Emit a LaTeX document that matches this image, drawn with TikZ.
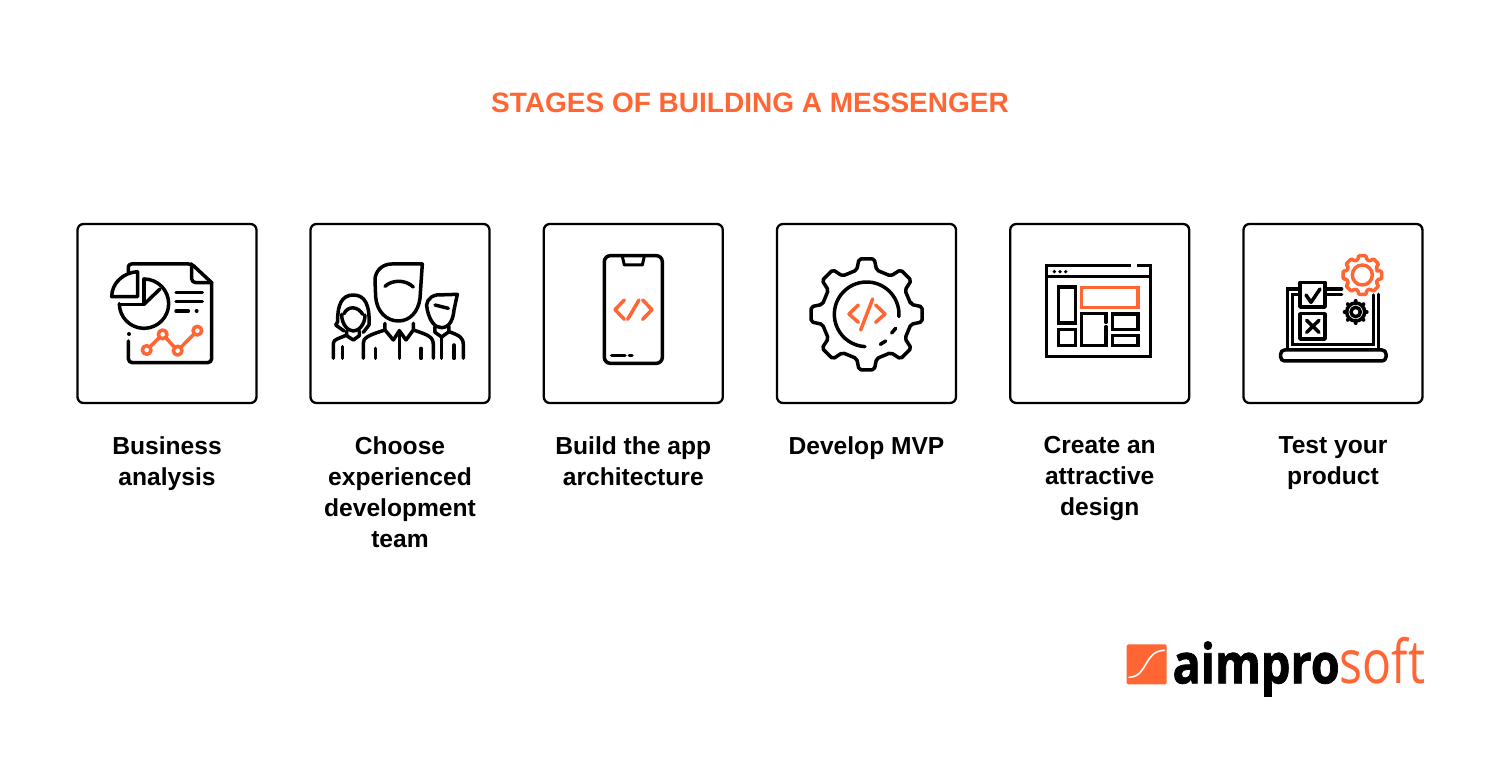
\documentclass[tikz,border=0pt]{standalone}
\usepackage{fontspec}
\usepackage{graphicx}
\setmainfont{Liberation Sans}
\newfontfamily\logobold[BoldFont={* Bold},BoldFeatures={FakeBold=1.5}]{Open Sans}
\newfontfamily\logolight{Open Sans}
\definecolor{accent}{HTML}{FF6633}
\tikzset{
  iconbox/.style={draw=black,line width=2.3pt,rounded corners=6pt,minimum width=179pt,minimum height=179pt,inner sep=0pt},
  caption/.style={anchor=north,align=center,font=\fontsize{24.6}{31}\selectfont\bfseries,inner sep=0pt,text=black},
  ink/.style={line width=3.5pt,line cap=round,line join=round,draw=black},
  inkthin/.style={line width=3pt,line cap=round,line join=round,draw=black},
  hot/.style={line width=3.5pt,line cap=round,line join=round,draw=accent},
  zoomA/.style={shift={(70,215)},scale=1/3},
  zoomB/.style={shift={(535,215)},scale=1/3},
  zoomC/.style={shift={(1000,215)},scale=1/3},
  zoomL/.style={shift={(1115,625)},scale=1/3},
}
\begin{document}
\begin{tikzpicture}[x=1pt,y=1pt,yscale=-1]
\useasboundingbox (0,0) rectangle (1500,767);
\fill[white] (0,0) rectangle (1500,767);
\node[anchor=base,font=\fontsize{28}{34}\selectfont\bfseries,text=accent,inner sep=0pt] (title) at (750,113) {STAGES OF BUILDING A MESSENGER};
% boxes
\node[iconbox] (b1) at (167,313.5) {};
\node[iconbox] (b2) at (400,313.5) {};
\node[iconbox] (b3) at (633.3,313.5) {};
\node[iconbox] (b4) at (866.5,313.5) {};
\node[iconbox] (b5) at (1099.7,313.5) {};
\node[iconbox] (b6) at (1333,313.5) {};
% captions
\node[caption] (c1) at (167,436) {Business\\analysis};
\node[caption] (c2) at (400,436) {Choose\\experienced\\development\\team};
\node[caption] (c3) at (633.3,436) {Build the app\\architecture};
\node[caption] (c4) at (866.5,436) {Develop MVP};
\node[caption] (c5) at (1099.7,436) {Create an\\attractive\\design};
\node[caption] (c6) at (1333,436) {Test your\\product};
% icon 1
\begin{scope}[zoomA]
\draw[ink] (175,170) -- (175,158) [rounded corners=3pt] -- (175,147) -- (365,147) [sharp corners] -- (425,203) [rounded corners=4pt] -- (425,443) -- (175,443) [sharp corners] -- (175,378);
\draw[ink] (365,147) [rounded corners=4pt] -- (365,203) -- (425,203);
\filldraw[ink,fill=white] (203,170) -- (203,245) -- (125,245) .. controls (125,205) and (160,172) .. (203,170);
\draw[ink] (222,192) -- (222,268) -- (148,268);
\draw[ink] (222,268) -- (270,222);
\draw[ink] (222,192) arc (-90:180:74);
\draw[ink] (318,232) -- (397,232) (318,260) -- (397,260) (318,288) -- (355,288);
\fill (380,288) circle (6);
\fill (177,357) circle (6);
\draw[hot] (230,405) -- (278,358) -- (323,407) -- (382,347);
\foreach \p in {(230,405),(278,358),(323,407),(382,347)} \filldraw[hot,fill=white] \p circle (13);
% icon 2: man
\draw[ink] (1057,147) -- (965,147) .. controls (935,147) and (915,170) .. (915,195) -- (917,245) .. controls (920,290) and (950,318) .. (985,318) .. controls (1020,318) and (1045,290) .. (1050,250) -- cycle;
\draw[ink] (945,214) .. controls (965,195) and (1005,192) .. (1030,216);
\draw[ink] (945,325) -- (945,345) -- (970,375) -- (988,347) -- (1008,375) -- (1030,345) -- (1030,325);
\draw[ink] (988,347) -- (988,430);
\draw[ink] (880,430) -- (880,385) .. controls (880,370) and (890,362) .. (945,345);
\draw[ink] (1030,345) .. controls (1075,360) and (1090,365) .. (1090,390) -- (1090,430);
\draw[ink] (917,400) -- (917,430) (1053,400) -- (1053,430);
% woman
\draw[ink] (880,352) -- (897,330) .. controls (900,270) and (885,240) .. (850,240) .. controls (815,240) and (802,270) .. (803,320) -- (797,330) -- (822,348);
\draw[ink] (822,296) .. controls (835,270) and (865,275) .. (878,298);
\draw[ink] (815,298) .. controls (815,330) and (835,348) .. (850,348) .. controls (865,348) and (885,330) .. (885,300);
\draw[ink] (830,348) -- (830,362) -- (850,375) -- (868,362) -- (868,348);
\draw[ink] (790,430) -- (790,385) .. controls (790,372) and (810,370) .. (830,360);
\draw[ink] (818,395) -- (818,430);
% young man
\draw[ink] (1162,238) -- (1100,240) .. controls (1075,245) and (1065,265) .. (1072,285) .. controls (1080,320) and (1095,338) .. (1115,338) .. controls (1140,338) and (1150,310) .. (1152,285) -- cycle;
\draw[ink] (1095,270) -- (1135,280);
\draw[ink] (1095,335) -- (1095,352) -- (1115,366) -- (1137,350) -- (1137,335);
\draw[ink] (1115,366) -- (1115,430);
\draw[ink] (1137,350) .. controls (1170,362) and (1180,368) .. (1180,390) -- (1180,430);
\draw[ink] (1152,390) -- (1152,430);
\end{scope}
% icon 3
\begin{scope}[zoomB]
\draw[ink,rounded corners=6pt] (208,122) rectangle (382,445);
\draw[inkthin] (262,124) -- (268,150) -- (322,150) -- (328,124);
\draw[ink] (230,421) -- (270,421) (283,421) -- (291,421);
\draw[hot] (268,255) -- (240,284) -- (268,313);
\draw[hot] (312,255) -- (278,313);
\draw[hot] (323,255) -- (351,284) -- (323,313);
% icon 4
\begin{scope}[shift={(995,298)}]
\draw[ink,rounded corners=2pt] (-12.7:136) \foreach \a in {0,45,...,315} { -- ({\a-12.7}:136) -- ({\a-7.8}:168) -- ({\a+7.8}:168) -- ({\a+12.7}:136) } -- cycle;
\draw[ink] (4:97) arc (4:-267:97);
\end{scope}
\draw[ink] (1070,354) -- (1082,340) (1036,388) -- (1052,378);
\draw[hot] (970,270) -- (942,297) -- (970,322);
\draw[hot] (1013,252) -- (977,345);
\draw[hot] (1022,270) -- (1050,297) -- (1022,322);
\end{scope}
% icon 5
\begin{scope}[zoomC]
\draw[ink,line cap=butt,line join=miter] (392,151) -- (140,151) -- (140,424) -- (452,424) -- (452,151) -- (412,151);
\draw[ink,line cap=butt] (140,185) -- (452,185);
\foreach \x in {163,180,197} \fill (\x,170) circle (5.5);
\draw[ink,line join=miter] (176,216) rectangle (226,324);
\draw[ink,line join=miter] (176,343) rectangle (226,392);
\draw[hot,line join=miter] (244,217) rectangle (414,277);
\draw[ink,line join=miter] (318,322) -- (318,296) -- (244,296) -- (244,392) -- (318,392) -- (318,335);
\draw[ink,line join=miter] (338,297) rectangle (414,344);
\draw[ink,line join=miter] (338,362) rectangle (414,392);
% icon 6
\draw[ink,rounded corners=4pt] (842,405) -- (1158,405) -- (1158,438) -- (842,438) -- cycle;
\draw[ink,line join=miter] (898,222) -- (862,222) -- (862,403);
\draw[ink,line join=miter] (898,238) -- (878,238) -- (878,388) -- (1120,388) -- (1120,240);
\draw[ink] (1136,238) -- (1136,403);
\draw[ink] (977,222) -- (1025,222) (977,238) -- (1025,238);
\draw[ink] (900,202) rectangle (975,276);
\draw[ink] (918,240) -- (933,262) -- (960,222);
\draw[ink] (900,296) rectangle (975,372);
\draw[ink] (920,316) -- (957,352) (957,316) -- (920,352);
\begin{scope}[shift={(1087,180)}]
\draw[hot,rounded corners=1pt] (-16:47) \foreach \a in {0,45,...,315} { -- ({\a-16}:48) -- ({\a-11}:59) -- ({\a+11}:59) -- ({\a+16}:48) } -- cycle;
\draw[hot] (0,0) circle (30);
\end{scope}
\begin{scope}[shift={(1067,291)}]
\draw[ink] (0,0) circle (14);
\draw[ink] (0,0) circle (27);
\foreach \a in {0,45,...,315} \fill ({\a}:28) ++({\a}:5) circle (6);
\end{scope}
\end{scope}
% logo
\begin{scope}[zoomL]
\fill[accent,rounded corners=1.5pt] (35,58) rectangle (155,178);
\draw[white,line width=1.6pt,line cap=round] (42,157) .. controls (100,155) and (85,78) .. (148,76);
\node[anchor=base west,inner sep=0pt,font=\logobold\bfseries\fontsize{55}{60}\selectfont,text=black] (lg1) at (172,175) {\scalebox{0.85}[1]{aimpro}};
\node[anchor=base west,inner sep=0pt,font=\logolight\fontsize{56}{60}\selectfont,text=accent] (lg2) at (674,175) {\scalebox{0.86}[1.08]{soft}};
\end{scope}
\end{tikzpicture}
\end{document}
